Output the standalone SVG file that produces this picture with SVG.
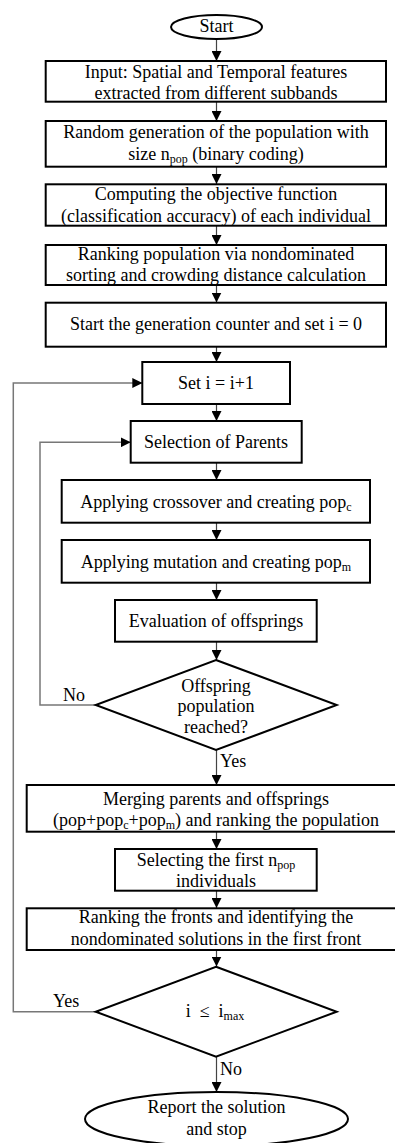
<svg xmlns="http://www.w3.org/2000/svg" width="395" height="1143" viewBox="0 0 395 1143">
<style>
.box{fill:#fff;stroke:#000;stroke-width:2}
.t{font-family:"Liberation Serif","Times New Roman",serif;font-size:18px;fill:#000;text-anchor:middle}
.l{font-family:"Liberation Serif","Times New Roman",serif;font-size:18px;fill:#000}
.c{fill:none;stroke:#444;stroke-width:1.2}
.loop{fill:none;stroke:#777;stroke-width:1.5}
.sub{font-size:12px}
</style>
<defs>
<marker id="ah" markerUnits="userSpaceOnUse" markerWidth="10" markerHeight="10" refX="10" refY="5" orient="auto">
<path d="M0,0 L10,5 L0,10 Z" fill="#000"/>
</marker>
</defs>
<rect width="395" height="1143" fill="#fff"/>
<g id="connectors">
<line class="c" x1="216.5" y1="39" x2="216.5" y2="61" marker-end="url(#ah)"/>
<line class="c" x1="216.5" y1="102" x2="216.5" y2="121" marker-end="url(#ah)"/>
<line class="c" x1="216.5" y1="167" x2="216.5" y2="184" marker-end="url(#ah)"/>
<line class="c" x1="216.5" y1="226" x2="216.5" y2="245" marker-end="url(#ah)"/>
<line class="c" x1="216.5" y1="285" x2="216.5" y2="302.5" marker-end="url(#ah)"/>
<line class="c" x1="216.5" y1="347" x2="216.5" y2="362" marker-end="url(#ah)"/>
<line class="c" x1="216.5" y1="404" x2="216.5" y2="421" marker-end="url(#ah)"/>
<line class="c" x1="216.5" y1="463" x2="216.5" y2="480" marker-end="url(#ah)"/>
<line class="c" x1="216.5" y1="523" x2="216.5" y2="540" marker-end="url(#ah)"/>
<line class="c" x1="216.5" y1="583" x2="216.5" y2="600" marker-end="url(#ah)"/>
<line class="c" x1="216.5" y1="642" x2="216.5" y2="660" marker-end="url(#ah)"/>
<line class="c" x1="216.5" y1="750" x2="216.5" y2="785" marker-end="url(#ah)"/>
<line class="c" x1="216.5" y1="832" x2="216.5" y2="849" marker-end="url(#ah)"/>
<line class="c" x1="216.5" y1="891" x2="216.5" y2="908" marker-end="url(#ah)"/>
<line class="c" x1="216.5" y1="950" x2="216.5" y2="966.5" marker-end="url(#ah)"/>
<line class="c" x1="216.5" y1="1057" x2="216.5" y2="1092" marker-end="url(#ah)"/>
<polyline class="loop" points="95.7,705 40,705 40,442.3 130.7,442.3" marker-end="url(#ah)"/>
<polyline class="loop" points="95.7,1011.7 13.3,1011.7 13.3,383 142.3,383" marker-end="url(#ah)"/>
<text class="l" x="63" y="701">No</text>
<text class="l" x="220" y="767">Yes</text>
<text class="l" x="53" y="1007">Yes</text>
<text class="l" x="220" y="1075">No</text>
</g>
<g id="start">
<ellipse class="box" cx="216.5" cy="27" rx="45.5" ry="12"/>
<text class="t" x="216.5" y="32">Start</text>
</g>
<g id="input">
<rect class="box" x="45.7" y="61" width="340.3" height="40.7"/>
<text class="t" x="216" y="77.7">Input: Spatial and Temporal features</text>
<text class="t" x="216" y="98.5">extracted from different subbands</text>
</g>
<g id="random">
<rect class="box" x="45.7" y="121" width="340.3" height="45.7"/>
<text class="t" x="216" y="138.3">Random generation of the population with</text>
<text class="t" x="216" y="160">size n<tspan class="sub" dy="3">pop</tspan><tspan dy="-3"> (binary coding)</tspan></text>
</g>
<g id="objective">
<rect class="box" x="45.7" y="184.3" width="340.3" height="41.4"/>
<text class="t" x="216" y="200">Computing the objective function</text>
<text class="t" x="216" y="221.7">(classification accuracy) of each individual</text>
</g>
<g id="ranking">
<rect class="box" x="45.7" y="245" width="340.3" height="40"/>
<text class="t" x="216" y="260">Ranking population via nondominated</text>
<text class="t" x="216" y="280.7">sorting and crowding distance calculation</text>
</g>
<g id="counter">
<rect class="box" x="45.7" y="302.7" width="340.3" height="44"/>
<text class="t" x="216" y="330">Start the generation counter and set i = 0</text>
</g>
<g id="increment">
<rect class="box" x="142.3" y="362" width="147.7" height="42"/>
<text class="t" x="216" y="388.5">Set i = i+1</text>
</g>
<g id="selection">
<rect class="box" x="130.7" y="421" width="171" height="41.7"/>
<text class="t" x="216" y="448">Selection of Parents</text>
</g>
<g id="crossover">
<rect class="box" x="61.7" y="480" width="308.3" height="42.7"/>
<text class="t" x="216" y="508">Applying crossover and creating pop<tspan class="sub" dy="3">c</tspan></text>
</g>
<g id="mutation">
<rect class="box" x="61.7" y="540" width="308.3" height="42.7"/>
<text class="t" x="216" y="568">Applying mutation and creating pop<tspan class="sub" dy="3">m</tspan></text>
</g>
<g id="evaluation">
<rect class="box" x="115" y="600" width="201.7" height="41.7"/>
<text class="t" x="216" y="627">Evaluation of offsprings</text>
</g>
<g id="decision1">
<polygon class="box" points="216,660 336.7,705 216,750 95.7,705"/>
<text class="t" x="216" y="691.7">Offspring</text>
<text class="t" x="216" y="711.7">population</text>
<text class="t" x="216" y="733.3">reached?</text>
</g>
<g id="merging">
<rect class="box" x="26.7" y="785" width="379.3" height="46.7"/>
<text class="t" x="216" y="805">Merging parents and offsprings</text>
<text class="t" x="216" y="826">(pop+pop<tspan class="sub" dy="3">c</tspan><tspan dy="-3">+pop</tspan><tspan class="sub" dy="3">m</tspan><tspan dy="-3">) and ranking the population</tspan></text>
</g>
<g id="selecting">
<rect class="box" x="115" y="849" width="201.7" height="41.7"/>
<text class="t" x="216" y="866">Selecting the first n<tspan class="sub" dy="3">pop</tspan></text>
<text class="t" x="216" y="886.7">individuals</text>
</g>
<g id="fronts">
<rect class="box" x="26.7" y="908.3" width="379.3" height="41.7"/>
<text class="t" x="216" y="923.3">Ranking the fronts and identifying the</text>
<text class="t" x="216" y="945">nondominated solutions in the first front</text>
</g>
<g id="decision2">
<polygon class="box" points="216,966.7 336.7,1011.7 216,1056.7 95.7,1011.7"/>
<text class="t" x="215" y="1016.7">i&#160;&#160;≤&#160;&#160;i<tspan class="sub" dy="3">max</tspan></text>
</g>
<g id="end">
<ellipse class="box" cx="216.5" cy="1119" rx="131.5" ry="27"/>
<text class="t" x="216.5" y="1113.3">Report the solution</text>
<text class="t" x="216.5" y="1135">and stop</text>
</g>
</svg>
